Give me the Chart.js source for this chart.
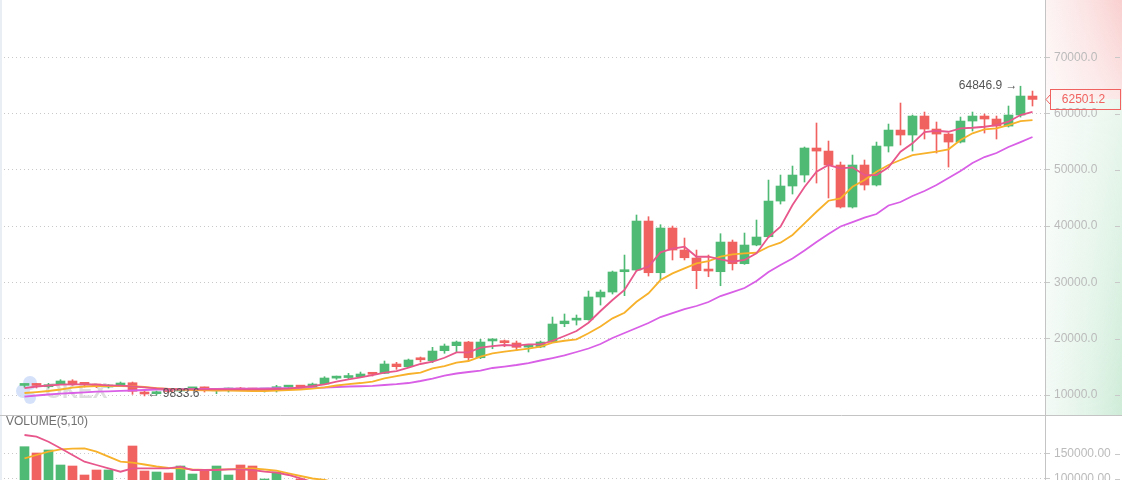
<!DOCTYPE html>
<html>
<head>
<meta charset="utf-8">
<script src="https://cdn.jsdelivr.net/npm/chart.js@4.4.1/dist/chart.umd.min.js"></script>
<style>
    html, body { margin: 0; padding: 0; background: #fff; }
    #wrap { position: relative; width: 1122px; height: 480px; overflow: hidden; }
    #pricePane { position: absolute; left: 0; top: 0; width: 1122px; height: 415px; }
    #volumePane { position: absolute; left: 0; top: 415px; width: 1122px; height: 65px; }
</style>
</head>
<body>
<div id="wrap">
    <div id="pricePane"><canvas id="priceChart"></canvas></div>
    <div id="volumePane"><canvas id="volumeChart"></canvas></div>
</div>
<script>
// candles (one per day)
const opens = [
    11700, 11740, 11470, 12010, 12490, 11950, 11640, 11420, 11720, 12180,
    10530, 10230, 10660, 10710, 11090, 11120, 10750, 10890, 11240, 11070,
    10870, 10940, 11400, 11430, 11420, 11950, 13000, 13100, 13250, 13700,
    13850, 15510, 15030, 16300, 16090, 17870, 18760, 19410, 16620, 19600,
    19640, 19240, 18500, 18530, 19410, 22660, 23300, 23370, 27410, 28290,
    31900, 32200, 40900, 31720, 39660, 35750, 34330, 32100, 31900, 37170,
    33320, 36640, 38110, 44450, 47120, 49070, 53870, 53330, 50850, 43390,
    50850, 47300, 54220, 57060, 56180, 59550, 57240, 56350, 54930, 58660,
    59550, 59020, 57770, 59730, 63100
];
const highs = [
    11950, 12080, 12080, 12720, 12720, 12180, 11830, 11830, 12310, 12310,
    10710, 10710, 10800, 11000, 11370, 11420, 10890, 11240, 11350, 11200,
    11120, 11720, 11720, 11720, 12130, 13250, 13370, 13850, 14080, 13850,
    16040, 15810, 16390, 16750, 18470, 19060, 19590, 19540, 19890, 20000,
    19770, 19590, 18830, 19590, 23850, 24390, 24210, 28470, 28650, 32020,
    34860, 41970, 41670, 40250, 40010, 37880, 35750, 34860, 38650, 37530,
    38770, 41080, 48180, 49070, 50670, 54050, 58310, 55110, 51380, 52620,
    51740, 54930, 58130, 61860, 59730, 60260, 58490, 56530, 59370, 60260,
    59910, 59550, 61330, 64846.9, 63990
];
const lows = [
    11380, 11240, 11240, 11950, 11720, 11420, 11300, 11240, 11550, 10120,
    9833.6, 10000, 10450, 10600, 10760, 10530, 10230, 10530, 10800, 10800,
    10530, 10530, 11240, 11120, 11300, 11900, 12790, 12790, 13140, 13370,
    13800, 14560, 14920, 15860, 15740, 17410, 17690, 16220, 16450, 18220,
    18580, 17870, 17640, 18400, 19300, 22130, 22430, 23300, 25980, 27940,
    27640, 32000, 31130, 30420, 33980, 33980, 28880, 31010, 29410, 32200,
    33210, 36500, 38000, 43920, 45700, 47830, 47650, 44990, 43210, 43210,
    46410, 47120, 53160, 54400, 53330, 55470, 52980, 50490, 54760, 56890,
    56530, 55470, 57600, 59370, 61330
];
const closes = [
    11730, 11700, 11830, 12490, 11830, 11900, 11600, 11650, 12130, 10660,
    10180, 10530, 10620, 10890, 11120, 11090, 10780, 11240, 10890, 10890,
    10900, 11470, 11430, 11400, 11950, 13020, 13030, 13140, 13730, 13680,
    15510, 15030, 16220, 16260, 17810, 18700, 19410, 16620, 19410, 19640,
    19290, 18470, 18530, 19410, 22610, 23140, 23320, 27410, 28290, 31850,
    31950, 40900, 31720, 39660, 35750, 34380, 32080, 32020, 37170, 33320,
    36640, 38060, 44450, 47120, 49070, 53870, 53330, 50850, 43390, 50850,
    47300, 54220, 57060, 56180, 59550, 57240, 56350, 54930, 58660, 59550,
    59020, 57770, 59730, 63100, 62501.2
];

// moving averages as drawn on the chart
const ma5 = [
    11240, 11510, 11690, 11830, 11900, 11900, 11830, 11720, 11650, 11545,
    11370, 11190, 11070, 11010, 11010, 11010, 11010, 11010, 11010, 11010,
    11010, 11070, 11150, 11350, 11600, 11900, 12360, 12790, 13140, 13550,
    13960, 14260, 14850, 15510, 15910, 16620, 17580, 17580, 18400, 18700,
    18880, 18760, 19000, 19000, 19640, 20480, 21370, 22840, 24920, 26870,
    28650, 32080, 32790, 35340, 35980, 36340, 34560, 34560, 34100, 33670,
    33980, 35170, 38060, 39890, 43740, 46940, 49660, 50850, 50260, 50440,
    49070, 49070, 50440, 53210, 54700, 56710, 56940, 56760, 57370, 57470,
    57650, 57950, 58540, 59730, 60310
];
const ma10 = [
    10360, 10530, 10710, 10980, 11330, 11510, 11600, 11600, 11600, 11560,
    11420, 11240, 11070, 10940, 10890, 10830, 10800, 10800, 10760, 10710,
    10710, 10800, 10890, 10980, 11150, 11370, 11690, 11950, 12130, 12360,
    12970, 13370, 13730, 13960, 14740, 15150, 15740, 16040, 16800, 17410,
    17690, 17990, 18220, 18580, 19290, 19640, 19890, 20960, 22170, 23620,
    24620, 26570, 28060, 30420, 31610, 32500, 33390, 33800, 34560, 34990,
    35170, 35270, 36340, 37050, 38420, 40490, 42550, 44510, 44930, 46990,
    48180, 49660, 50850, 51740, 52620, 52930, 53210, 53640, 55290, 56480,
    57190, 57370, 57950, 58660, 58840
];
const ma30 = [
    9730, 9910, 10090, 10230, 10360, 10480, 10590, 10660, 10750, 10800,
    10890, 10940, 10980, 11010, 11030, 11070, 11100, 11120, 11150, 11150,
    11190, 11210, 11240, 11240, 11280, 11330, 11420, 11510, 11560, 11630,
    11780, 11920, 12130, 12490, 12930, 13460, 13820, 14090, 14350, 14800,
    15060, 15330, 15680, 16130, 16570, 17020, 17640, 18260, 19060, 20120,
    21010, 21900, 22790, 23850, 24560, 25270, 25810, 26520, 27580, 28290,
    29000, 30250, 31850, 33090, 34240, 35660, 37170, 38590, 39930, 40720,
    41520, 42150, 43660, 44280, 45340, 46230, 47300, 48540, 49780, 51200,
    52270, 52980, 54050, 54930, 55820
];

// volume pane (only the tops of the first bars are in view)
const volumes = [
    163600, 151000, 157000, 127000, 125000, 107000, 117000, 117000, 95000, 165000,
    115000, 113000, 111000, 125000, 109000, 115000, 125000, 107000, 127000, 125000,
    99000, 113000, 90000, 99000, 88000, 85000, 80000, 76000, 82000, 70000,
    86000, 72000, 78000, 66000, 84000, 75000, 79000, 73000, 88000, 82000,
    77000, 85000, 90000, 81000, 74000, 86000, 80000, 92000, 83000, 78000,
    88000, 91000, 86000, 79000, 84000, 90000, 77000, 82000, 88000, 85000,
    80000, 76000, 89000, 92000, 84000, 78000, 81000, 87000, 83000, 79000,
    75000, 86000, 80000, 77000, 74000, 82000, 78000, 76000, 72000, 70000,
    68000, 73000, 66000, 60000, 40000
];
const volMa5 = [
    187000, 183600, 173600, 160400, 147000, 133600, 127000, 120400, 113600, 120400,
    120400, 120400, 120400, 123600, 117000, 117000, 117000, 118400, 118400, 117000,
    113600, 111600, 107000, 100400, 93000
];
const volMa10 = [
    140400, 147000, 153600, 158400, 159800, 160400, 153600, 143600, 133600, 131600,
    128000, 124000, 121000, 120400, 118000, 117000, 117700, 118400, 119400, 120400,
    118000, 115600, 110400, 105000, 100000, 97000, 92000
];

const priceTicks = [10000, 20000, 30000, 40000, 50000, 60000, 70000];
const volumeTicks = [100000, 150000];

const UP = '#4eba73';
const DOWN = '#f0625f';
const GRID = '#c9c9c9';
const AXIS_W = 77;
const X_MIN = -2 - 0.5 / 12;
const X_MAX = X_MIN + 1045 / 12;

Chart.defaults.font.family = 'Arial, "Liberation Sans", sans-serif';
Chart.defaults.font.size = 12;

const candleColors = closes.map((c, i) => (c >= opens[i] ? UP : DOWN));
const pts = (arr) => arr.map((v, i) => ({ x: i, y: v }));

function fixAxis(s) {
    s.width = AXIS_W;
    s.paddingTop = 0;
    s.paddingBottom = 0;
}

function rightTicks(chart, scale) {
    const ctx = chart.ctx;
    ctx.save();
    ctx.strokeStyle = GRID;
    ctx.lineWidth = 1;
    scale.ticks.forEach(t => {
        const y = Math.round(scale.getPixelForValue(t.value)) + 0.5;
        ctx.beginPath();
        ctx.moveTo(chart.width - 7, y);
        ctx.lineTo(chart.width - 2, y);
        ctx.stroke();
    });
    ctx.fillStyle = '#e9edf4';
    ctx.fillRect(0, 0, 2, chart.height);
    ctx.restore();
}

const pricePlugin = {
    id: 'pricePane',
    beforeDraw(chart) {
        const { ctx, chartArea: a, width, height } = chart;
        const py = chart.scales.y.getPixelForValue(closes[closes.length - 1]);
        ctx.save();
        let g = ctx.createLinearGradient(a.right, 0, width, 0);
        g.addColorStop(0, 'rgba(250,222,222,0.35)');
        g.addColorStop(1, 'rgba(249,205,205,0.95)');
        ctx.fillStyle = g;
        ctx.fillRect(a.right, 0, width - a.right, py);
        g = ctx.createLinearGradient(a.right, 0, width, 0);
        g.addColorStop(0, 'rgba(222,242,229,0.35)');
        g.addColorStop(1, 'rgba(204,235,214,0.95)');
        ctx.fillStyle = g;
        ctx.fillRect(a.right, py, width - a.right, height - py);
        g = ctx.createLinearGradient(0, 0, 0, py);
        g.addColorStop(0, 'rgba(255,255,255,0)');
        g.addColorStop(1, 'rgba(255,255,255,0.45)');
        ctx.fillStyle = g;
        ctx.fillRect(a.right, 0, width - a.right, py);
        g = ctx.createLinearGradient(0, py, 0, height);
        g.addColorStop(0, 'rgba(255,255,255,0.55)');
        g.addColorStop(1, 'rgba(255,255,255,0)');
        ctx.fillStyle = g;
        ctx.fillRect(a.right, py, width - a.right, height - py);
        ctx.restore();
    },
    beforeDatasetsDraw(chart) {
        // faint exchange watermark behind the candles
        const ctx = chart.ctx;
        ctx.save();
        ctx.fillStyle = 'rgba(205,220,248,0.85)';
        [[23, 391, 7], [30, 383, 7], [30, 398, 6]].forEach(([cx, cy, r]) => {
            ctx.beginPath();
            ctx.arc(cx, cy, r, 0, Math.PI * 2);
            ctx.fill();
        });
        ctx.fillStyle = '#dedede';
        ctx.font = 'bold 22px Arial, "Liberation Sans", sans-serif';
        ctx.textBaseline = 'middle';
        ctx.fillText('OKEX', 45, 392);
        ctx.restore();
    },
    afterDraw(chart) {
        const { ctx, chartArea: a, width } = chart;
        const xs = chart.scales.x, ys = chart.scales.y;
        rightTicks(chart, ys);

        // highest high and lowest low markers
        const hi = highs.indexOf(Math.max(...highs));
        const lo = lows.indexOf(Math.min(...lows));
        ctx.save();
        ctx.font = '12px Arial, "Liberation Sans", sans-serif';
        ctx.fillStyle = '#555';
        ctx.textBaseline = 'middle';
        ctx.textAlign = 'right';
        ctx.fillText(highs[hi].toFixed(1) + ' \u2192', xs.getPixelForValue(hi) - 3, ys.getPixelForValue(highs[hi]) - 1);
        ctx.textAlign = 'left';
        ctx.fillText('\u2190 ' + lows[lo].toFixed(1), xs.getPixelForValue(lo) + 3, ys.getPixelForValue(lows[lo]) - 2);

        // last price tag on the axis
        const last = closes[closes.length - 1];
        const py = Math.round(ys.getPixelForValue(last));
        ctx.strokeStyle = DOWN;
        ctx.lineWidth = 1;
        ctx.strokeRect(a.right + 5.5, py - 9.5, 70, 20);
        ctx.beginPath();
        ctx.moveTo(a.right + 5, py - 4);
        ctx.lineTo(a.right + 1, py + 0.5);
        ctx.lineTo(a.right + 5, py + 5);
        ctx.stroke();
        ctx.fillStyle = DOWN;
        ctx.textAlign = 'center';
        ctx.fillText(last.toFixed(1), (a.right + width) / 2, py + 1);
        ctx.restore();
    }
};

const volumePlugin = {
    id: 'volumePane',
    afterDraw(chart) {
        const ctx = chart.ctx;
        rightTicks(chart, chart.scales.y);
        ctx.save();
        ctx.strokeStyle = '#c4c4c4';
        ctx.lineWidth = 1;
        ctx.beginPath();
        ctx.moveTo(0, 0.5);
        ctx.lineTo(chart.width, 0.5);
        ctx.stroke();
        ctx.font = '12px Arial, "Liberation Sans", sans-serif';
        ctx.fillStyle = '#707070';
        ctx.textBaseline = 'middle';
        ctx.fillText('VOLUME(5,10)', 6, 7);
        ctx.restore();
    }
};

const lineStyle = (color) => ({
    type: 'line',
    borderColor: color,
    borderWidth: 1.8,
    pointRadius: 0,
    tension: 0,
    order: 0
});

const axisX = { type: 'linear', min: X_MIN, max: X_MAX, offset: false, display: false };

const axisY = (ticks, digits, min, max) => ({
    position: 'right',
    min: min,
    max: max,
    afterFit: fixAxis,
    afterBuildTicks: (s) => { s.ticks = ticks.map(v => ({ value: v })); },
    ticks: {
        color: '#bbbbbb',
        padding: 4,
        crossAlign: 'center',
        callback: (v) => Number(v).toFixed(digits)
    },
    grid: { color: GRID, tickColor: GRID, tickLength: 5, tickBorderDash: [] },
    border: { display: true, color: '#c4c4c4', dash: [1, 3] }
});

new Chart(document.getElementById('priceChart'), {
    type: 'bar',
    data: {
        datasets: [
            {
                data: lows.map((l, i) => ({ x: i, y: [l, highs[i]] })),
                backgroundColor: candleColors,
                barThickness: 1,
                grouped: false,
                order: 2
            },
            {
                data: opens.map((o, i) => ({ x: i, y: [o, closes[i]] })),
                backgroundColor: candleColors,
                barThickness: 9,
                minBarLength: 2,
                grouped: false,
                order: 1
            },
            Object.assign({ data: pts(ma5) }, lineStyle('#e8578b')),
            Object.assign({ data: pts(ma10) }, lineStyle('#f7b12a')),
            Object.assign({ data: pts(ma30) }, lineStyle('#d85fe6'))
        ]
    },
    options: {
        responsive: true,
        maintainAspectRatio: false,
        animation: false,
        layout: { padding: 0 },
        plugins: { legend: { display: false }, tooltip: { enabled: false } },
        scales: {
            x: axisX,
            y: axisY(priceTicks, 1, 6450, 80160)
        }
    },
    plugins: [pricePlugin]
});

new Chart(document.getElementById('volumeChart'), {
    type: 'bar',
    data: {
        datasets: [
            {
                data: pts(volumes),
                backgroundColor: candleColors,
                barThickness: 9,
                grouped: false,
                order: 1
            },
            Object.assign({ data: pts(volMa5) }, lineStyle('#e8578b')),
            Object.assign({ data: pts(volMa10) }, lineStyle('#f7b12a'))
        ]
    },
    options: {
        responsive: true,
        maintainAspectRatio: false,
        animation: false,
        layout: { padding: 0 },
        plugins: { legend: { display: false }, tooltip: { enabled: false } },
        scales: {
            x: Object.assign({}, axisX),
            y: axisY(volumeTicks, 2, 97000, 227000)
        }
    },
    plugins: [volumePlugin]
});
</script>
</body>
</html>
